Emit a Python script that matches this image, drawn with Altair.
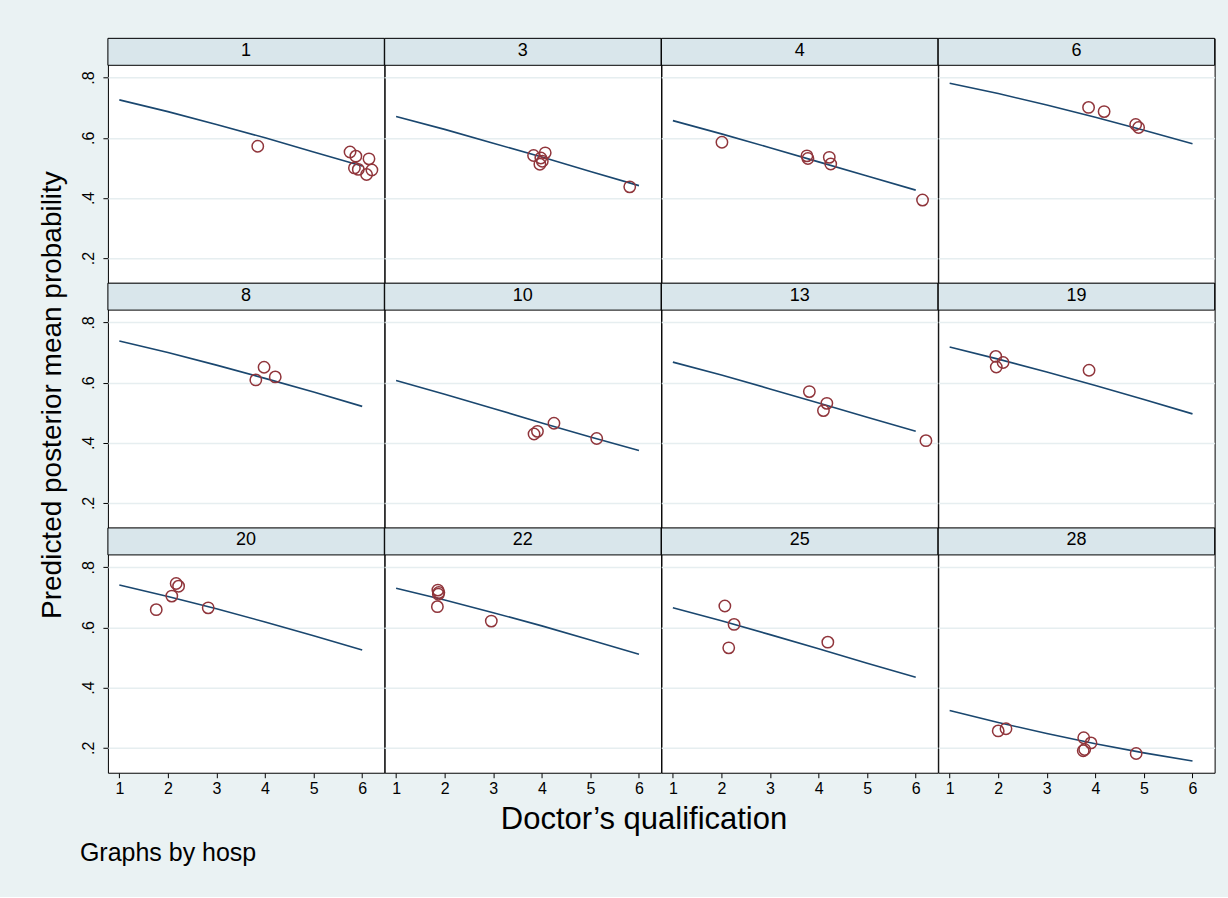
import altair as alt
import pandas as pd

FONT = "Liberation Sans"
BG = "#eaf2f3"
HDR = "#d9e6eb"
GRID = "#e6eef0"
LINE_C = "#1a476f"
PT_C = "#90353b"

hosp_ids = [1, 3, 4, 6, 8, 10, 13, 19, 20, 22, 25, 28]
fit_qual = [1, 2, 3, 4, 5, 6]
x_ticks = [1, 2, 3, 4, 5, 6]
y_ticks = [0.2, 0.4, 0.6, 0.8]
n_cols = 4

# fitted (predicted) curve per hospital, read at qualification 1..6
fit_h1 = [0.726, 0.687, 0.644, 0.600, 0.553, 0.506]
fit_h3 = [0.671, 0.628, 0.582, 0.536, 0.488, 0.441]
fit_h4 = [0.657, 0.613, 0.567, 0.520, 0.473, 0.426]
fit_h6 = [0.781, 0.747, 0.709, 0.668, 0.625, 0.580]
fit_h8 = [0.738, 0.700, 0.658, 0.614, 0.569, 0.521]
fit_h10 = [0.607, 0.561, 0.514, 0.466, 0.419, 0.374]
fit_h13 = [0.668, 0.625, 0.579, 0.532, 0.485, 0.438]
fit_h19 = [0.718, 0.678, 0.635, 0.590, 0.544, 0.496]
fit_h20 = [0.741, 0.703, 0.662, 0.618, 0.572, 0.525]
fit_h22 = [0.730, 0.691, 0.649, 0.605, 0.558, 0.511]
fit_h25 = [0.665, 0.622, 0.576, 0.529, 0.481, 0.434]
fit_h28 = [0.324, 0.284, 0.247, 0.213, 0.183, 0.156]

# observed points per hospital
obs_q_h1 = [3.85, 5.75, 5.87, 6.14, 5.84, 5.92, 6.09, 6.20]
obs_p_h1 = [0.572, 0.553, 0.539, 0.530, 0.500, 0.495, 0.478, 0.493]
obs_q_h3 = [3.83, 4.07, 3.98, 4.01, 3.96, 5.81]
obs_p_h3 = [0.541, 0.550, 0.533, 0.522, 0.512, 0.437]
obs_q_h4 = [2.01, 3.76, 3.78, 4.22, 4.25, 6.14]
obs_p_h4 = [0.585, 0.540, 0.531, 0.535, 0.513, 0.393]
obs_q_h6 = [3.86, 4.18, 4.83, 4.89]
obs_p_h6 = [0.701, 0.687, 0.644, 0.634]
obs_q_h8 = [3.98, 3.81, 4.21]
obs_p_h8 = [0.651, 0.609, 0.619]
obs_q_h10 = [4.25, 3.84, 3.91, 5.13]
obs_p_h10 = [0.465, 0.429, 0.438, 0.414]
obs_q_h13 = [3.81, 4.17, 4.10, 6.21]
obs_p_h13 = [0.570, 0.531, 0.507, 0.407]
obs_q_h19 = [1.95, 2.10, 1.96, 3.87]
obs_p_h19 = [0.687, 0.667, 0.652, 0.641]
obs_q_h20 = [1.76, 2.08, 2.17, 2.22, 2.83]
obs_p_h20 = [0.659, 0.704, 0.746, 0.737, 0.665]
obs_q_h22 = [1.86, 1.88, 1.87, 1.85, 2.96]
obs_p_h22 = [0.724, 0.716, 0.710, 0.669, 0.621]
obs_q_h25 = [2.07, 2.26, 2.15, 4.19]
obs_p_h25 = [0.671, 0.610, 0.532, 0.551]
obs_q_h28 = [2.00, 2.16, 3.76, 3.91, 3.78, 3.75, 4.84]
obs_p_h28 = [0.256, 0.263, 0.233, 0.216, 0.194, 0.190, 0.181]

y_title = "Predicted posterior mean probability"
x_title = "Doctor\u2019s qualification"
note_text = "Graphs by hosp"

fits = {1: fit_h1, 3: fit_h3, 4: fit_h4, 6: fit_h6, 8: fit_h8, 10: fit_h10,
        13: fit_h13, 19: fit_h19, 20: fit_h20, 22: fit_h22, 25: fit_h25, 28: fit_h28}
obs = {1: (obs_q_h1, obs_p_h1), 3: (obs_q_h3, obs_p_h3), 4: (obs_q_h4, obs_p_h4),
       6: (obs_q_h6, obs_p_h6), 8: (obs_q_h8, obs_p_h8), 10: (obs_q_h10, obs_p_h10),
       13: (obs_q_h13, obs_p_h13), 19: (obs_q_h19, obs_p_h19), 20: (obs_q_h20, obs_p_h20),
       22: (obs_q_h22, obs_p_h22), 25: (obs_q_h25, obs_p_h25), 28: (obs_q_h28, obs_p_h28)}

rows = []
for i, h in enumerate(hosp_ids):
    r, c = i // n_cols, i % n_cols
    base = dict(hosp=h, prow=r, pcol=c)
    for q, p in zip(fit_qual, fits[h]):
        rows.append(dict(base, kind="fit", qual=q, prob=p, label=""))
    for q, p in zip(*obs[h]):
        rows.append(dict(base, kind="obs", qual=q, prob=p, label=""))
    rows.append(dict(base, kind="hdr", qual=None, prob=None, label=str(h)))
    if h == 8:
        rows.append(dict(base, kind="ytitle", qual=None, prob=None, label=y_title))
    if h == 22:
        rows.append(dict(base, kind="xtitle", qual=None, prob=None, label=x_title))
    if h == 20:
        rows.append(dict(base, kind="note", qual=None, prob=None, label=note_text))
df = pd.DataFrame(rows)

W = 276.6
H = 245
HDR_H = 27

x_enc = alt.X(
    "qual:Q",
    scale=alt.Scale(domain=[0.765, 6.455], nice=False, zero=False),
    axis=alt.Axis(values=x_ticks, title=None, grid=False, domain=False,
                  tickColor="black", tickSize=5, tickWidth=1,
                  labelFontSize=16, labelColor="black", labelPadding=3,
                  labelFont=FONT),
)
y_enc = alt.Y(
    "prob:Q",
    scale=alt.Scale(domain=[0.1169, 0.9306], nice=False, zero=False),
    axis=alt.Axis(values=y_ticks, title=None, grid=True, gridColor=GRID,
                  gridWidth=1.5, domain=False, tickColor="black", tickSize=5,
                  tickWidth=1, labelAngle=270, labelFontSize=16,
                  labelColor="black", labelPadding=6, labelFont=FONT,
                  labelExpr="substring(format(datum.value, '.1f'), 1)"),
)

fit_layer = alt.Chart().mark_line(color=LINE_C, strokeWidth=1.6).encode(
    x=x_enc, y=y_enc, order="qual:Q"
).transform_filter(alt.datum.kind == "fit")

obs_layer = alt.Chart().mark_point(
    shape="circle", filled=False, color=PT_C, size=130, strokeWidth=1.5, opacity=1
).encode(x=x_enc, y=y_enc).transform_filter(alt.datum.kind == "obs")

hdr_rect = alt.Chart().mark_rect(fill=HDR, stroke="black", strokeWidth=1).encode(
    x=alt.value(0), x2=alt.value(W), y=alt.value(0), y2=alt.value(HDR_H)
).transform_filter(alt.datum.kind == "hdr")

hdr_text = alt.Chart().mark_text(
    fontSize=18, font=FONT, color="black", align="center", baseline="middle"
).encode(
    text="label:N", x=alt.value(W / 2), y=alt.value(12.5)
).transform_filter(alt.datum.kind == "hdr")

ytitle_text = alt.Chart().mark_text(
    fontSize=28, font=FONT, color="black", align="center", baseline="alphabetic", angle=270
).encode(
    text="label:N", x=alt.value(-47), y=alt.value(112)
).transform_filter(alt.datum.kind == "ytitle")

xtitle_text = alt.Chart().mark_text(
    fontSize=31, font=FONT, color="black", align="center", baseline="alphabetic"
).encode(
    text="label:N", x=alt.value(259.5), y=alt.value(301)
).transform_filter(alt.datum.kind == "xtitle")

note_layer = alt.Chart().mark_text(
    fontSize=25, font=FONT, color="black", align="left", baseline="alphabetic"
).encode(
    text="label:N", x=alt.value(-28), y=alt.value(333)
).transform_filter(alt.datum.kind == "note")

layered = alt.layer(
    fit_layer, obs_layer, hdr_rect, hdr_text, ytitle_text, xtitle_text, note_layer,
    data=df,
).properties(width=W, height=H)

chart = layered.facet(
    row=alt.Row("prow:O", title=None, header=alt.Header(labels=False)),
    column=alt.Column("pcol:O", title=None, header=alt.Header(labels=False)),
    spacing=0,
).properties(bounds="flush").configure(
    background=BG,
    font=FONT,
    padding={"left": 38, "top": 37, "right": 12, "bottom": 30},
).configure_view(stroke="black", strokeWidth=1, fill="white")

chart.save("out.html", embed_options={"renderer": "svg", "actions": False})
